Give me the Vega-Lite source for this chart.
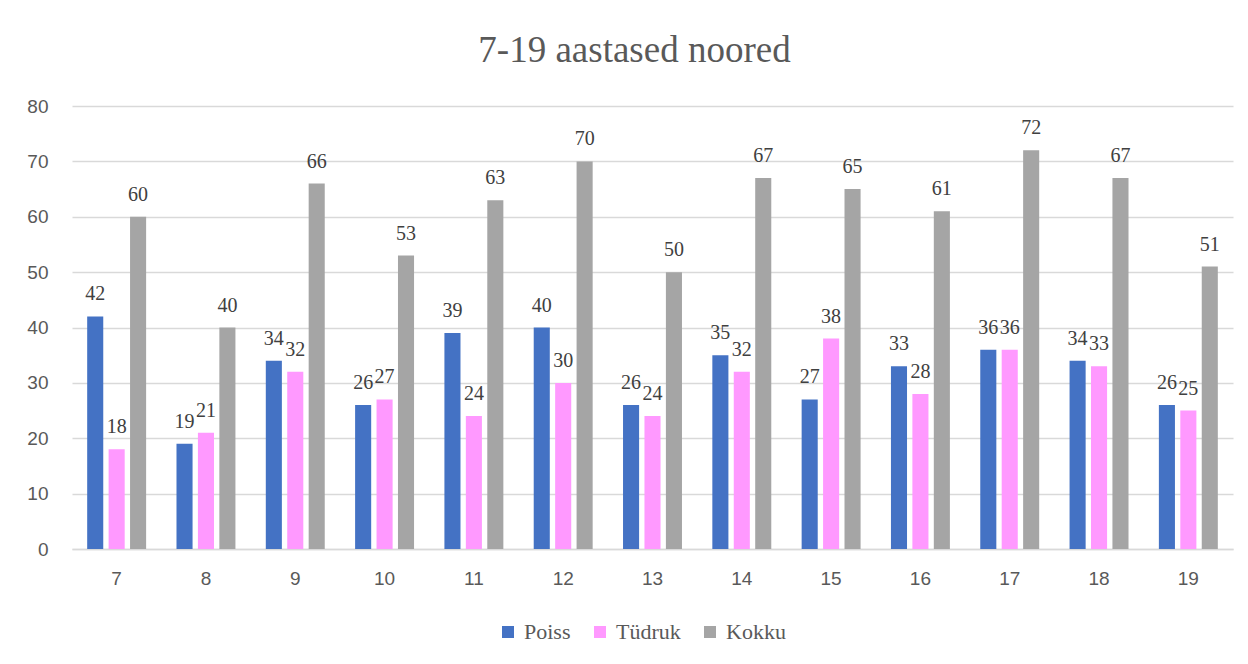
{
  "$schema": "https://vega.github.io/schema/vega-lite/v6.json",
  "width": 1161,
  "height": 443,
  "autosize": {"type": "none"},
  "padding": {"left": 72, "top": 106, "right": 15, "bottom": 115},
  "background": "white",
  "config": {"view": {"stroke": null}},
  "title": {
    "text": "7-19 aastased noored",
    "font": "Liberation Serif",
    "fontSize": 37,
    "fontWeight": "normal",
    "color": "#595959",
    "anchor": "middle",
    "dx": -18,
    "offset": 27
  },
  "data": {
    "values": [
      {"age": 7, "series": "Poiss", "value": 42}, {"age": 7, "series": "Tüdruk", "value": 18}, {"age": 7, "series": "Kokku", "value": 60},
      {"age": 8, "series": "Poiss", "value": 19}, {"age": 8, "series": "Tüdruk", "value": 21}, {"age": 8, "series": "Kokku", "value": 40},
      {"age": 9, "series": "Poiss", "value": 34}, {"age": 9, "series": "Tüdruk", "value": 32}, {"age": 9, "series": "Kokku", "value": 66},
      {"age": 10, "series": "Poiss", "value": 26}, {"age": 10, "series": "Tüdruk", "value": 27}, {"age": 10, "series": "Kokku", "value": 53},
      {"age": 11, "series": "Poiss", "value": 39}, {"age": 11, "series": "Tüdruk", "value": 24}, {"age": 11, "series": "Kokku", "value": 63},
      {"age": 12, "series": "Poiss", "value": 40}, {"age": 12, "series": "Tüdruk", "value": 30}, {"age": 12, "series": "Kokku", "value": 70},
      {"age": 13, "series": "Poiss", "value": 26}, {"age": 13, "series": "Tüdruk", "value": 24}, {"age": 13, "series": "Kokku", "value": 50},
      {"age": 14, "series": "Poiss", "value": 35}, {"age": 14, "series": "Tüdruk", "value": 32}, {"age": 14, "series": "Kokku", "value": 67},
      {"age": 15, "series": "Poiss", "value": 27}, {"age": 15, "series": "Tüdruk", "value": 38}, {"age": 15, "series": "Kokku", "value": 65},
      {"age": 16, "series": "Poiss", "value": 33}, {"age": 16, "series": "Tüdruk", "value": 28}, {"age": 16, "series": "Kokku", "value": 61},
      {"age": 17, "series": "Poiss", "value": 36}, {"age": 17, "series": "Tüdruk", "value": 36}, {"age": 17, "series": "Kokku", "value": 72},
      {"age": 18, "series": "Poiss", "value": 34}, {"age": 18, "series": "Tüdruk", "value": 33}, {"age": 18, "series": "Kokku", "value": 67},
      {"age": 19, "series": "Poiss", "value": 26}, {"age": 19, "series": "Tüdruk", "value": 25}, {"age": 19, "series": "Kokku", "value": 51}
    ]
  },
  "encoding": {
    "x": {
      "field": "age",
      "type": "ordinal",
      "scale": {"paddingInner": 0.34, "paddingOuter": 0.17},
      "axis": {
        "title": null,
        "labelAngle": 0,
        "ticks": false,
        "domainColor": "#d9d9d9",
        "domainWidth": 1.5,
        "labelFont": "Liberation Sans",
        "labelFontSize": 19,
        "labelColor": "#595959",
        "labelPadding": 20,
        "grid": false
      }
    },
    "xOffset": {
      "field": "series",
      "type": "nominal",
      "sort": ["Poiss", "Tüdruk", "Kokku"],
      "scale": {"paddingInner": 0.25, "paddingOuter": 0}
    },
    "y": {
      "field": "value",
      "type": "quantitative",
      "scale": {"domain": [0, 80], "nice": false},
      "axis": {
        "title": null,
        "values": [0, 10, 20, 30, 40, 50, 60, 70, 80],
        "ticks": false,
        "domain": false,
        "gridColor": "#d9d9d9",
        "gridWidth": 1.5,
        "labelFont": "Liberation Sans",
        "labelFontSize": 19,
        "labelColor": "#595959",
        "labelPadding": 24
      }
    }
  },
  "layer": [
    {
      "mark": {"type": "bar"},
      "encoding": {
        "color": {
          "field": "series",
          "type": "nominal",
          "sort": ["Poiss", "Tüdruk", "Kokku"],
          "scale": {"domain": ["Poiss", "Tüdruk", "Kokku"], "range": ["#4472C4", "#FF99FF", "#A5A5A5"]},
          "legend": {
            "title": null,
            "orient": "none",
            "direction": "horizontal",
            "legendX": 425,
            "legendY": 515,
            "symbolType": "square",
            "symbolSize": 144,
            "symbolStrokeWidth": 0,
            "labelFont": "Liberation Serif",
            "labelFontSize": 22,
            "labelColor": "#595959",
            "labelOffset": 5,
            "columnPadding": 18
          }
        }
      }
    },
    {
      "mark": {
        "type": "text",
        "font": "Liberation Serif",
        "fontSize": 20,
        "color": "#404040",
        "baseline": "alphabetic",
        "dy": -16
      },
      "encoding": {
        "text": {"field": "value", "type": "quantitative"}
      }
    }
  ]
}
